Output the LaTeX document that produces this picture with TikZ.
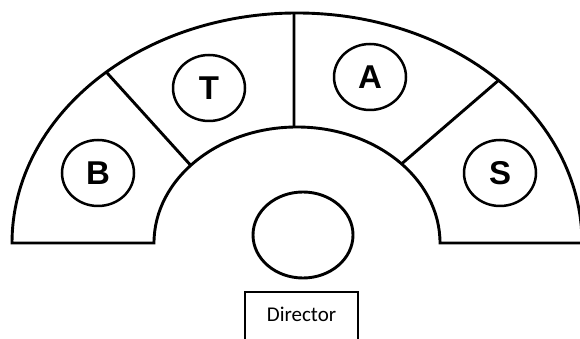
\documentclass[tikz,border=0pt]{standalone}
\usepackage{fontspec}
\setmainfont{Liberation Sans}
\newfontfamily\calibri{Carlito}
\usetikzlibrary{shapes.geometric}

\begin{document}
\begin{tikzpicture}[x=1pt,y=1pt,line width=2.9pt,line join=miter,
  voice/.style={ellipse,draw,line width=2.5pt,inner sep=0pt,
    minimum width=72pt,minimum height=66pt,
    font=\fontsize{33}{33}\selectfont\bfseries},
  podium/.style={ellipse,draw,line width=2.9pt,minimum width=100pt,minimum height=86pt},
  namebox/.style={draw,line width=1.2pt,inner sep=0pt,text width=113pt,align=center,
    text height=30pt,text depth=30pt,font=\calibri\fontsize{21}{21}\selectfont}]
\useasboundingbox (0,0) rectangle (580,339);
  % stage ring
  \draw (154,96) -- (12,96) arc[start angle=180,end angle=0,x radius=285,y radius=230]
    -- (440,96) arc[start angle=0,end angle=180,x radius=143,y radius=116] -- cycle;
  \foreach \i/\o in {43/45,91.2/90.6,138/132}
    \draw[shift={(297,96)}] (\i:143pt and 116pt) -- (\o:285pt and 230pt);
  % voices
  \node[voice] (B) at (98,166) {B};
  \node[voice] (T) at (209,251) {T};
  \node[voice] (A) at (370,262) {A};
  \node[voice] (S) at (500,166) {S};
  % conductor
  \node[podium] (podium) at (303,104) {};
  \node[namebox,anchor=base] (director) at (301.5,17) {Director};
\end{tikzpicture}
\end{document}
